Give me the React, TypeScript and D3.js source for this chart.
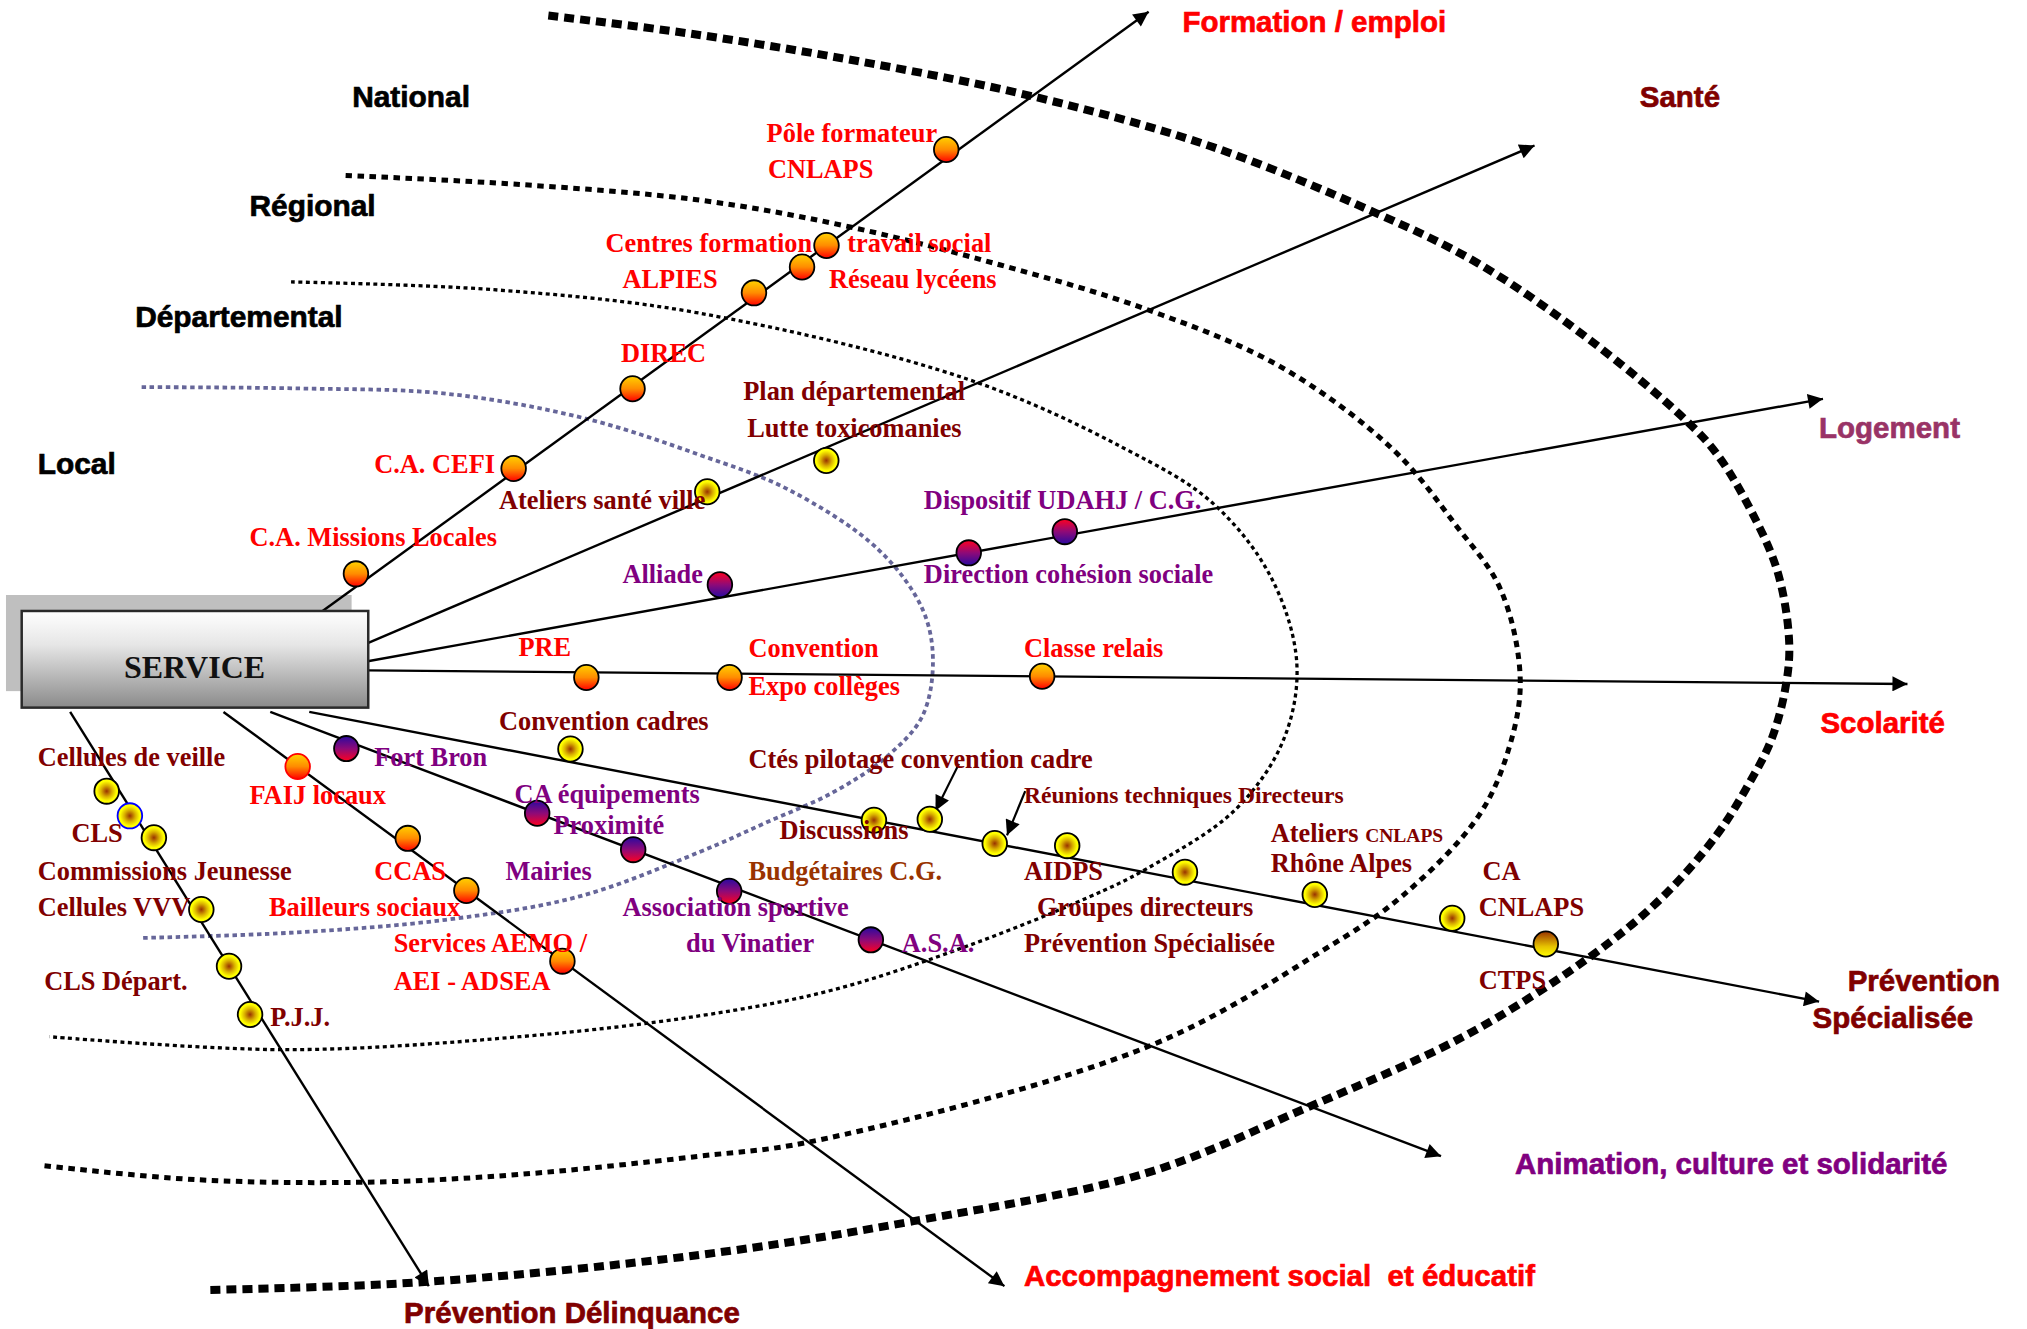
import React from 'react';
import * as d3 from 'd3';

const W = 2027;
const H = 1329;

// ---- data ----
// axes of action, leaving the SERVICE box
const axisNames = [
  'Formation / emploi',
  'Santé',
  'Logement',
  'Scolarité',
  'Prévention Spécialisée',
  'Animation, culture et solidarité',
  'Accompagnement social  et éducatif',
  'Prévention Délinquance',
];

// partners on each axis: axis index, position along it (0 = SERVICE, 1 = arrow tip)
const nodeNames = [
  'C.A. Missions Locales', 'C.A. CEFI', 'DIREC', 'ALPIES', 'Réseau lycéens', 'Centres formation travail social', 'Pôle formateur CNLAPS',
  'Ateliers santé ville', 'Plan départemental Lutte toxicomanies',
  'Alliade', 'Direction cohésion sociale', 'Dispositif UDAHJ / C.G.',
  'PRE', 'Convention Expo collèges', 'Classe relais',
  'Convention cadres', 'Discussions Budgétaires C.G.', 'Ctés pilotage convention cadre', 'Réunions techniques Directeurs', 'AIDPS',
  'Groupes directeurs', 'Ateliers CNLAPS Rhône Alpes', 'CA CNLAPS', 'CTPS',
  'Fort Bron', 'CA équipements Proximité', 'Mairies', 'Association sportive du Vinatier', 'A.S.A.',
  'FAIJ locaux', 'CCAS', 'Bailleurs sociaux', 'Services AEMO / AEI - ADSEA',
  'Cellules de veille', 'CLS', 'Commissions Jeunesse', 'Cellules VVV', 'CLS Départ.', 'P.J.J.',
];
const nodeAxis = [
  0, 0, 0, 0, 0, 0, 0,
  1, 1,
  2, 2, 2,
  3, 3, 3,
  4, 4, 4, 4, 4, 4, 4, 4, 4,
  5, 5, 5, 5, 5,
  6, 6, 6, 6,
  7, 7, 7, 7, 7, 7,
];
const nodeAt = [
  0.06, 0.247, 0.388, 0.532, 0.589, 0.618, 0.76,
  0.291, 0.393,
  0.242, 0.413, 0.479,
  0.142, 0.235, 0.438,
  0.173, 0.374, 0.411, 0.454, 0.502, 0.58, 0.666, 0.757, 0.819,
  0.065, 0.228, 0.31, 0.392, 0.513,
  0.095, 0.236, 0.311, 0.434,
  0.138, 0.181, 0.219, 0.344, 0.443, 0.527,
];
const nodeKind = [
  'orange', 'orange', 'orange', 'orange', 'orange', 'orange', 'orange',
  'yellow', 'yellow',
  'redBlue', 'redBlue', 'redBlue',
  'orange', 'orange', 'orange',
  'yellow', 'yellow', 'yellow', 'yellow', 'yellow', 'yellow', 'yellow', 'yellow', 'brown',
  'blueRed', 'blueRed', 'blueRed', 'blueRed', 'blueRed',
  'orange', 'orange', 'orange', 'orange',
  'yellow', 'yellow', 'yellow', 'yellow', 'yellow', 'yellow',
];

const levelNames = ['Local', 'Départemental', 'Régional', 'National'];

// ---- layout, in units of the original slide (1560 x 1023) ----
const axisFrom: [number, number][] = [
  [235, 480], [283, 495], [283, 509], [283, 516], [238, 548], [208, 548], [172, 548], [54, 548],
];
const axisTo: [number, number][] = [
  [884, 9], [1181, 112], [1403, 307], [1468, 526.5], [1400, 771], [1109, 890], [773, 990], [330, 990],
];
const axisColor = ['#ff0000', '#800000', '#993366', '#ff0000', '#800000', '#800080', '#ff0000', '#800000'];
const axisLabelAt: [number, number][][] = [
  [[910, 25]], [[1262, 82]], [[1400, 337]], [[1401, 564]],
  [[1422, 763], [1395, 791]], [[1166, 904]], [[788, 990]], [[311, 1018]],
];

// small offsets of circles that sit beside their axis
const nudge: Record<string, [number, number]> = {
  'C.A. Missions Locales': [0, -10],
  'C.A. CEFI': [0, -3],
  DIREC: [0, 2],
  ALPIES: [0, -4],
  'Réseau lycéens': [0, 3],
  'Pôle formateur CNLAPS': [0, -7],
  'Plan départemental Lutte toxicomanies': [0, 10],
  'Ateliers santé ville': [0, -5],
  Alliade: [0, -10],
  'Dispositif UDAHJ / C.G.': [0, -3],
  PRE: [0, 4],
  'Convention Expo collèges': [0, 3],
  'Convention cadres': [0, -10],
  'Ctés pilotage convention cadre': [0, -9],
  AIDPS: [0, -9],
  'Groupes directeurs': [0, -6],
  'Ateliers CNLAPS Rhône Alpes': [0, -8],
  'CA CNLAPS': [0, -10],
  CTPS: [0, -4],
  'Fort Bron': [0, 6],
  'Association sportive du Vinatier': [0, 4],
  CCAS: [0, -7],
  'Cellules de veille': [-10, 0],
  CLS: [-4, 0],
  'Commissions Jeunesse': [4, 0],
  'Cellules VVV': [6, 0],
  'P.J.J.': [-7, 0],
};

const levelArcs: [number, number][][] = [
  [[109, 298], [230, 299], [343, 303], [450, 322], [538, 350], [607, 377], [676, 423], [710, 469], [718, 508], [710, 551], [683, 582], [641, 610], [590, 633], [538, 656], [446, 690], [343, 708], [223, 718], [108, 722]],
  [[224, 217], [380, 223], [538, 241], [745, 292], [865, 345], [933, 387], [978, 444], [998, 510], [988, 569], [951, 623], [882, 669], [837, 691], [745, 728], [641, 762], [538, 782], [400, 798], [220, 808], [38, 798]],
  [[266, 135], [400, 142], [538, 154], [651, 174], [770, 204], [882, 238], [985, 282], [1072, 346], [1121, 405], [1155, 454], [1170, 523], [1161, 577], [1138, 628], [1080, 689], [1019, 731], [885, 805], [623, 879], [538, 890], [400, 904], [282, 910], [150, 908], [31, 897]],
  [[422, 12], [532, 26], [660, 47], [794, 74], [930, 112], [1059, 164], [1138, 203], [1224, 262], [1297, 323], [1321, 349], [1346, 390], [1368, 440], [1377, 495], [1374, 530], [1363, 570], [1345, 605], [1321, 643], [1279, 691], [1223, 737], [1128, 797], [1005, 853], [882, 903], [703, 940], [538, 966], [324, 987], [158, 993]],
];
const levelStroke = ['#666699', '#000', '#000', '#000'];
const levelWidth = [3.8, 3.3, 5, 8];
const levelDash = ['4.5 3.6', '4 3.5', '6.5 5.5', '10 6'];
const levelLabelAt: [number, number][] = [[29, 365], [104, 252], [192, 166], [271, 82]];

const RED = '#ff0000';
const DRED = '#800000';
const PURP = '#800080';
const labels: { t: string; x: number; y: number; c: string; s?: number; small?: string }[] = [
  { t: 'Pôle formateur', x: 590, y: 109, c: RED },
  { t: 'CNLAPS', x: 591, y: 137, c: RED },
  { t: 'Centres formation', x: 466, y: 194, c: RED },
  { t: 'travail social', x: 652, y: 194, c: RED },
  { t: 'ALPIES', x: 479, y: 222, c: RED },
  { t: 'Réseau lycéens', x: 638, y: 222, c: RED },
  { t: 'DIREC', x: 478, y: 279, c: RED },
  { t: 'C.A. CEFI', x: 288, y: 364, c: RED },
  { t: 'C.A. Missions Locales', x: 192, y: 420, c: RED },
  { t: 'Plan départemental', x: 572, y: 308, c: DRED },
  { t: 'Lutte toxicomanies', x: 575, y: 336, c: DRED },
  { t: 'Ateliers santé ville', x: 384, y: 392, c: DRED },
  { t: 'Dispositif UDAHJ / C.G.', x: 711, y: 392, c: PURP },
  { t: 'Alliade', x: 479, y: 449, c: PURP },
  { t: 'Direction cohésion sociale', x: 711, y: 449, c: PURP },
  { t: 'PRE', x: 399, y: 505, c: RED },
  { t: 'Convention', x: 576, y: 506, c: RED },
  { t: 'Expo collèges', x: 576, y: 535, c: RED },
  { t: 'Classe relais', x: 788, y: 506, c: RED },
  { t: 'Convention cadres', x: 384, y: 562, c: DRED },
  { t: 'Ctés pilotage convention cadre', x: 576, y: 591, c: DRED },
  { t: 'Réunions techniques Directeurs', x: 788, y: 618, c: DRED, s: 18.2 },
  { t: 'Discussions', x: 600, y: 646, c: DRED },
  { t: 'Budgétaires C.G.', x: 576, y: 677, c: '#993300' },
  { t: 'AIDPS', x: 788, y: 677, c: DRED },
  { t: 'Ateliers ', x: 978, y: 648, c: DRED, small: 'CNLAPS' },
  { t: 'Rhône Alpes', x: 978, y: 671, c: DRED },
  { t: 'Groupes directeurs', x: 798, y: 705, c: DRED },
  { t: 'Prévention Spécialisée', x: 788, y: 733, c: DRED },
  { t: 'CA', x: 1141, y: 677, c: DRED },
  { t: 'CNLAPS', x: 1138, y: 705, c: DRED },
  { t: 'CTPS', x: 1138, y: 761, c: DRED },
  { t: 'Fort Bron', x: 288, y: 590, c: PURP },
  { t: 'CA équipements', x: 396, y: 618, c: PURP },
  { t: 'Proximité', x: 426, y: 642, c: PURP },
  { t: 'Mairies', x: 389, y: 677, c: PURP },
  { t: 'Association sportive', x: 479, y: 705, c: PURP },
  { t: 'du Vinatier', x: 528, y: 733, c: PURP },
  { t: 'A.S.A.', x: 694, y: 733, c: PURP },
  { t: 'FAIJ locaux', x: 192, y: 619, c: RED },
  { t: 'CCAS', x: 288, y: 677, c: RED },
  { t: 'Bailleurs sociaux', x: 207, y: 705, c: RED },
  { t: 'Services AEMO /', x: 303, y: 733, c: RED },
  { t: 'AEI - ADSEA', x: 303, y: 762, c: RED },
  { t: 'Cellules de veille', x: 29, y: 590, c: DRED },
  { t: 'CLS', x: 55, y: 648, c: DRED },
  { t: 'Commissions Jeunesse', x: 29, y: 677, c: DRED },
  { t: 'Cellules VVV', x: 29, y: 705, c: DRED },
  { t: 'CLS Départ.', x: 34, y: 762, c: DRED },
  { t: 'P.J.J.', x: 208, y: 790, c: DRED },
];

// pointer arrows towards two meetings
const pointers: [number, number][][] = [
  [[738, 588], [720, 624]],
  [[789, 609], [775, 643]],
];

const fillOf: Record<string, string> = {
  orange: 'url(#gOrange)',
  yellow: 'url(#gYellow)',
  redBlue: 'url(#gRedBlue)',
  blueRed: 'url(#gBlueRed)',
  brown: 'url(#gBrown)',
};
const strokeOf: Record<string, string> = { 'FAIJ locaux': '#ff0000', CLS: '#0000ff' };

const SERIF = "'Liberation Serif', 'Times New Roman', serif";
const SANS = "'Liberation Sans', Arial, sans-serif";

export default function App() {
  const sx = d3.scaleLinear().domain([0, 1560]).range([0, W]);
  const sy = d3.scaleLinear().domain([0, 1023]).range([0, H]);
  const u = sx(1) - sx(0);

  const arc = d3
    .line<[number, number]>()
    .x((d) => sx(d[0]))
    .y((d) => sy(d[1]))
    .curve(d3.curveCatmullRom.alpha(0.5));

  const nodes = nodeNames.map((name, i) => {
    const a = nodeAxis[i];
    const p = d3.interpolateArray(axisFrom[a], axisTo[a])(nodeAt[i]) as number[];
    const d = nudge[name] || [0, 0];
    return { name, kind: nodeKind[i], x: sx(p[0] + d[0]), y: sy(p[1] + d[1]) };
  });

  return (
    <svg
      width={W}
      height={H}
      style={{ position: 'absolute', left: 0, top: 0, background: '#fff' }}
    >
      <defs>
        <linearGradient id="gOrange" x1="0" y1="0" x2="0" y2="1">
          <stop offset="0" stopColor="#ffd200" />
          <stop offset="0.5" stopColor="#ff8c00" />
          <stop offset="1" stopColor="#ff0000" />
        </linearGradient>
        <linearGradient id="gRedBlue" x1="0" y1="0" x2="0" y2="1">
          <stop offset="0" stopColor="#ff0020" />
          <stop offset="0.5" stopColor="#8e0a78" />
          <stop offset="1" stopColor="#2a0aa0" />
        </linearGradient>
        <linearGradient id="gBlueRed" x1="0" y1="0" x2="0" y2="1">
          <stop offset="0" stopColor="#2a0aa0" />
          <stop offset="0.5" stopColor="#8e0a78" />
          <stop offset="1" stopColor="#ff0020" />
        </linearGradient>
        <linearGradient id="gBrown" x1="0" y1="0" x2="0" y2="1">
          <stop offset="0" stopColor="#993300" />
          <stop offset="0.6" stopColor="#e6c200" />
          <stop offset="1" stopColor="#ffff00" />
        </linearGradient>
        <radialGradient id="gYellow" cx="0.5" cy="0.5" r="0.5">
          <stop offset="0" stopColor="#993300" />
          <stop offset="0.45" stopColor="#d9b000" />
          <stop offset="0.8" stopColor="#ffff00" />
        </radialGradient>
        <linearGradient id="gBox" x1="0" y1="0" x2="0" y2="1">
          <stop offset="0" stopColor="#ffffff" />
          <stop offset="0.35" stopColor="#e6e6e6" />
          <stop offset="1" stopColor="#8a8a8a" />
        </linearGradient>
        <marker
          id="head"
          viewBox="0 0 10 10"
          refX="10"
          refY="5"
          markerUnits="userSpaceOnUse"
          markerWidth={19}
          markerHeight={15}
          orient="auto"
        >
          <path d="M0,0L10,5L0,10z" fill="#000" />
        </marker>
      </defs>

      {/* territorial levels */}
      {levelArcs.map((pts, i) => (
        <path
          key={'arc' + i}
          d={arc(pts) || ''}
          fill="none"
          stroke={levelStroke[i]}
          strokeWidth={levelWidth[i]}
          strokeDasharray={levelDash[i]}
        />
      ))}

      {/* box shadow */}
      <rect x={sx(4.6)} y={sy(458)} width={sx(270.6) - sx(4.6)} height={sy(532) - sy(458)} fill="#bfbfbf" />

      {/* axes */}
      {axisNames.map((n, i) => (
        <line
          key={n}
          x1={sx(axisFrom[i][0])}
          y1={sy(axisFrom[i][1])}
          x2={sx(axisTo[i][0])}
          y2={sy(axisTo[i][1])}
          stroke="#000"
          strokeWidth={2.4}
          markerEnd="url(#head)"
        />
      ))}

      {/* SERVICE box */}
      <rect
        x={sx(16.7)}
        y={sy(470.3)}
        width={sx(283.4) - sx(16.7)}
        height={sy(544.7) - sy(470.3)}
        fill="url(#gBox)"
        stroke="#2a2a2a"
        strokeWidth={2.5}
      />
      <text
        x={sx(149.7)}
        y={sy(522)}
        textAnchor="middle"
        fontFamily={SERIF}
        fontWeight="bold"
        fontSize={32}
        fill="#111"
      >
        SERVICE
      </text>

      {pointers.map((p, i) => (
        <line
          key={'ptr' + i}
          x1={sx(p[0][0])}
          y1={sy(p[0][1])}
          x2={sx(p[1][0])}
          y2={sy(p[1][1])}
          stroke="#000"
          strokeWidth={2.2}
          markerEnd="url(#head)"
        />
      ))}

      {/* partners */}
      {nodes.map((d) => (
        <ellipse
          key={d.name}
          cx={d.x}
          cy={d.y}
          rx={12.3}
          ry={12.6}
          fill={fillOf[d.kind]}
          stroke={strokeOf[d.name] || '#000'}
          strokeWidth={1.8}
        />
      ))}

      {labels.map((l, i) => (
        <text
          key={'lb' + i}
          x={sx(l.x)}
          y={sy(l.y)}
          fontFamily={SERIF}
          fontWeight="bold"
          fontSize={(l.s || 20.3) * u}
          fill={l.c}
          style={{ whiteSpace: 'pre' }}
        >
          {l.t}
          {l.small ? <tspan fontSize={15 * u}>{l.small}</tspan> : null}
        </text>
      ))}

      {/* axis titles */}
      {axisNames.map((n, i) => {
        const at = axisLabelAt[i];
        const parts = at.length > 1 ? n.split(' ') : [n];
        return parts.map((t, j) => (
          <g key={n + j} transform={`translate(${sx(at[j][0])},${sy(at[j][1])}) scale(0.97,1)`}>
            <text
              fontFamily={SANS}
              fontWeight="bold"
              fontSize={23.4 * u}
              fill={axisColor[i]}
              stroke={axisColor[i]}
              strokeWidth={0.7}
              style={{ whiteSpace: 'pre' }}
            >
              {t}
            </text>
          </g>
        ));
      })}

      {/* level titles */}
      {levelNames.map((n, i) => (
        <text
          key={n}
          x={sx(levelLabelAt[i][0])}
          y={sy(levelLabelAt[i][1])}
          fontFamily={SANS}
          fontWeight="bold"
          fontSize={23 * u}
          fill="#000"
          stroke="#000"
          strokeWidth={0.7}
        >
          {n}
        </text>
      ))}
    </svg>
  );
}
